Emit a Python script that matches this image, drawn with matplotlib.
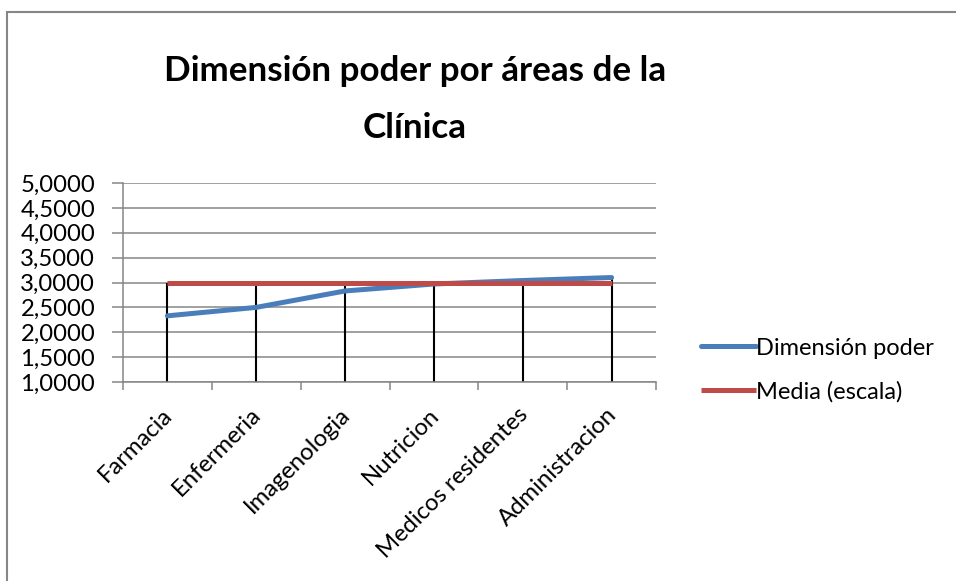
import matplotlib
matplotlib.use('Agg')
import matplotlib.pyplot as plt
from matplotlib.patches import Rectangle
from matplotlib.transforms import ScaledTranslation

categories = ['Farmacia', 'Enfermeria', 'Imagenologia', 'Nutricion',
              'Medicos residentes', 'Administracion']
dimension_poder = [2.33, 2.50, 2.83, 2.97, 3.04, 3.10]
media_escala = [3.0, 3.0, 3.0, 3.0, 3.0, 3.0]
y_ticks = [1.0, 1.5, 2.0, 2.5, 3.0, 3.5, 4.0, 4.5, 5.0]

W, H = 956, 581
plt.rcParams['font.family'] = ['Lato', 'DejaVu Sans']

fig = plt.figure(figsize=(W / 100, H / 100), dpi=100)
ax = fig.add_axes([123 / W, 1 - 382 / H, (656 - 123) / W, (382 - 183) / H])

grey = '#868686'
blue = '#4A7EBB'
red = '#BE4B48'

xs = list(range(len(categories)))
tops = [max(a, b) for a, b in zip(dimension_poder, media_escala)]
ax.vlines(xs, y_ticks[0], tops, color='black', lw=1.5, zorder=2)
ax.plot(xs, dimension_poder, color=blue, lw=3.6, solid_capstyle='round',
        label='Dimensión poder', zorder=3)
ax.plot(xs, media_escala, color=red, lw=3.6, solid_capstyle='butt',
        label='Media (escala)', zorder=4)

ax.set_xlim(-0.5, len(categories) - 0.5)
ax.set_ylim(y_ticks[0], y_ticks[-1])
ax.set_yticks(y_ticks)
ax.set_yticklabels([f'{v:.4f}'.replace('.', ',') for v in y_ticks], fontsize=17.2)
ax.yaxis.grid(True, color=grey, lw=1.1)
ax.set_axisbelow(True)

# category boundaries carry the tick marks, names are placed under each category
ax.set_xticks([i - 0.5 for i in range(len(categories) + 1)])
ax.set_xticklabels([])
lab_tr = ax.get_xaxis_transform() + ScaledTranslation(-6 / 100, -22 / 100, fig.dpi_scale_trans)
for x, name in zip(xs, categories):
    ax.text(x, 0, name, transform=lab_tr, rotation=45, ha='right', va='top',
            rotation_mode='anchor', fontsize=17.2)
ax.tick_params(axis='x', which='major', length=6, width=1.1, color=grey)
ax.tick_params(axis='y', length=8, width=1.1, color=grey, pad=12)

for s in ['top', 'right']:
    ax.spines[s].set_visible(False)
for s in ['left', 'bottom']:
    ax.spines[s].set_color(grey)
    ax.spines[s].set_linewidth(1.1)

fig.text(415 / W, 1 - 81 / H, 'Dimensión poder por áreas de la',
         ha='center', va='baseline', fontsize=25.2, fontweight='bold')
fig.text(415 / W, 1 - 138 / H, 'Clínica',
         ha='center', va='baseline', fontsize=25.2, fontweight='bold')

ax.legend(loc='center left', bbox_to_anchor=(692 / W, 1 - 370 / H),
          bbox_transform=fig.transFigure, frameon=False, fontsize=17,
          handlelength=2.3, handletextpad=0.0, labelspacing=0.95, borderaxespad=0)

fig.patches.append(Rectangle((7 / W, -0.1), 1.2, (H - 12) / H + 0.1,
                             transform=fig.transFigure, fill=False,
                             edgecolor=grey, lw=1.5))

fig.savefig('out.png', dpi=100)
